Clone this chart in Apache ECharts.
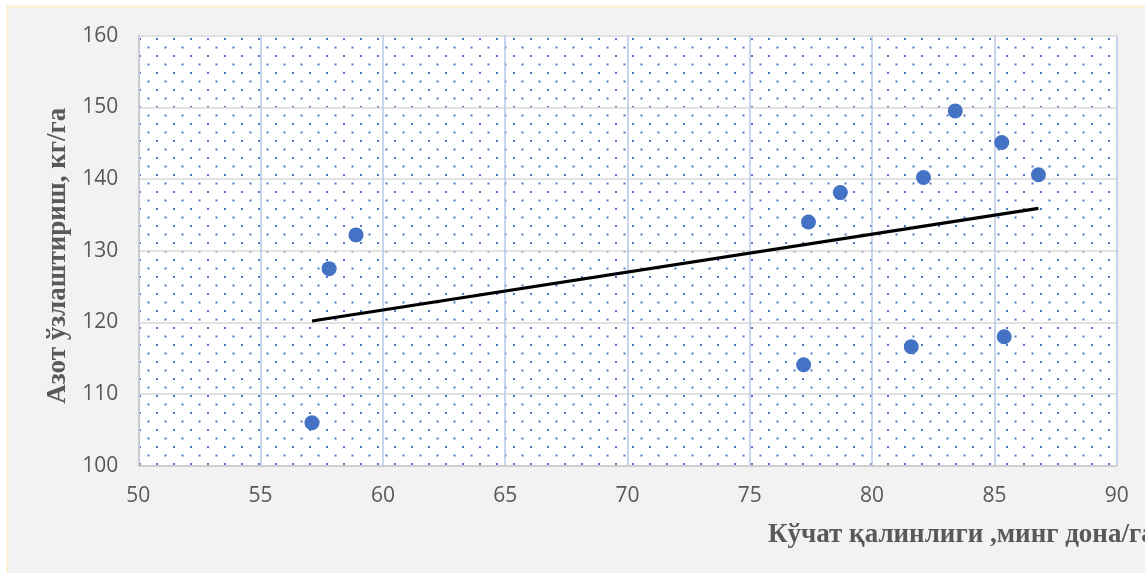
<!DOCTYPE html>
<html>
<head>
<meta charset="utf-8">
<script src="https://cdn.jsdelivr.net/npm/echarts@6/dist/echarts.min.js"></script>
<style>
html,body{margin:0;padding:0;background:#ffffff;}
#chart{width:1145px;height:573px;}
</style>
</head>
<body>
<div id="chart"></div>
<script>
// Data
const xValues = [57.1, 57.8, 58.9, 77.2, 77.4, 78.7, 81.6, 82.1, 83.4, 85.3, 85.4, 86.8];
const yValues = [106.0, 127.5, 132.2, 114.1, 134.0, 138.1, 116.6, 140.2, 149.5, 145.1, 118.0, 140.6];
const trendX = [57.1, 86.8];
const trendY = [120.2, 135.9];
const xAxisRange = [50, 90, 5];
const yAxisRange = [100, 160, 10];
const xTitle = 'Кўчат қалинлиги ,минг дона/га';
const yTitle = 'Азот ўзлаштириш, кг/га';

const points = xValues.map((x, i) => [x, yValues[i]]);
const trend = trendX.map((x, i) => [x, trendY[i]]);

// dotted pattern tile for plot area
function makePattern() {
  const c = document.createElement('canvas');
  c.width = 17; c.height = 17;
  const g = c.getContext('2d');
  g.fillStyle = '#ffffff';
  g.fillRect(0, 0, 17, 17);
  g.fillStyle = 'rgba(68,114,196,0.95)';
  g.fillRect(3, 4, 2, 2);
  g.fillRect(11.5, 12.5, 2, 2);
  return { image: c, repeat: 'repeat' };
}

const chart = echarts.init(document.getElementById('chart'));
chart.setOption({
  animation: false,
  backgroundColor: '#ffffff',
  graphic: [
    { type: 'rect', z: -10, shape: { x: 7.5, y: 6.5, width: 1145, height: 580 },
      style: { fill: '#f2f2f2', stroke: '#fbeec9', lineWidth: 2 } },
    { type: 'text', left: 768, top: 522,
      style: { text: xTitle, fill: '#595959', font: 'bold 27px "Liberation Serif"' } }
  ],
  grid: {
    left: 138.3, right: 28.3, top: 35.6, bottom: 107.2,
    show: true, borderWidth: 0,
    backgroundColor: makePattern()
  },
  xAxis: {
    type: 'value', min: xAxisRange[0], max: xAxisRange[1], interval: xAxisRange[2],
    axisLine: { show: true, onZero: false, lineStyle: { color: '#c9c9c9', width: 1.5 } },
    axisTick: { show: false },
    axisLabel: { color: '#595959', fontFamily: 'Open Sans', fontSize: 21, margin: 20 },
    splitLine: { show: true, lineStyle: { color: '#b4c7e7', width: 1.5 } }
  },
  yAxis: {
    type: 'value', min: yAxisRange[0], max: yAxisRange[1], interval: yAxisRange[2],
    name: yTitle, nameLocation: 'middle', nameGap: 67, nameRotate: 90,
    nameTextStyle: { color: '#595959', fontFamily: 'Liberation Serif', fontWeight: 'bold', fontSize: 27,
      padding: [0, 10, 0, 0] },
    axisLine: { show: true, lineStyle: { color: '#c9c9c9', width: 1.5 } },
    axisTick: { show: false },
    axisLabel: { color: '#595959', fontFamily: 'Open Sans', fontSize: 21, margin: 20 },
    splitLine: { show: true, lineStyle: { color: '#d9d9d9', width: 1.5 } }
  },
  series: [
    { type: 'line', data: trend, symbol: 'none', silent: true,
      lineStyle: { color: '#000000', width: 3.2 }, z: 2 },
    { type: 'scatter', data: points, symbolSize: 15,
      itemStyle: { color: '#4472c4', opacity: 1 }, z: 3 }
  ]
});
</script>
</body>
</html>
